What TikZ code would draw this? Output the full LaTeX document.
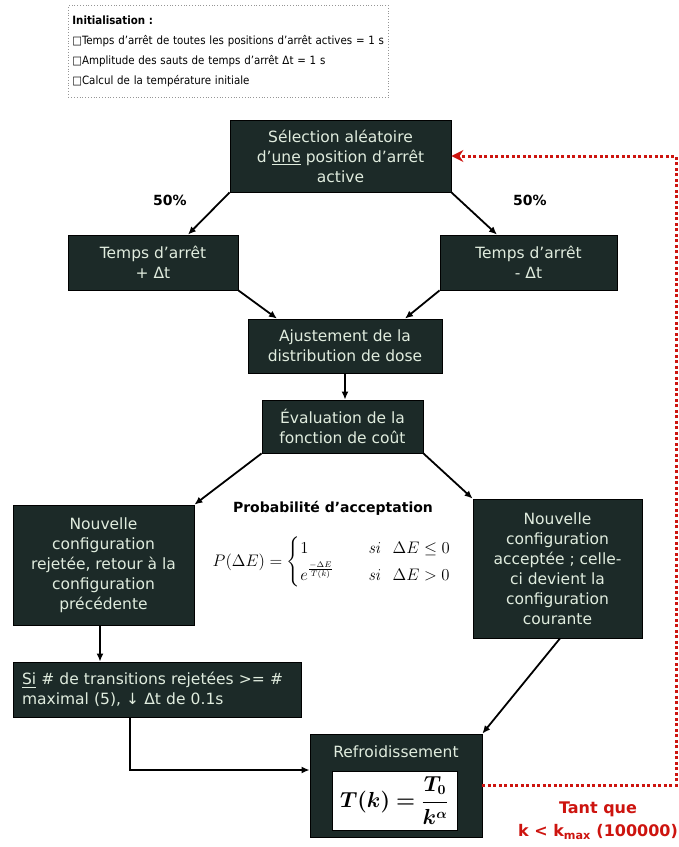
\documentclass[tikz,border=0pt]{standalone}
\usepackage{amsmath,bm,graphicx}
\usepackage[no-math]{fontspec}
\setmainfont{DejaVu Sans}
\newfontfamily\condfont{DejaVu Sans Condensed}
\usetikzlibrary{arrows.meta,calc}
\definecolor{boxc}{RGB}{28,42,40}
\definecolor{boxt}{RGB}{224,236,222}
\definecolor{loopred}{RGB}{205,20,15}
\definecolor{initgray}{RGB}{150,150,150}
\begin{document}
\begin{tikzpicture}[x=1pt,y=-1pt,
  box/.style={draw=black, line width=0.8pt, fill=boxc, text=boxt, align=center,
    inner sep=2pt, font=\fontsize{15.5}{20}\selectfont},
  arr/.style={-{Latex[length=8pt,width=7pt]}, line width=1.8pt},
  pct/.style={font=\bfseries\fontsize{14}{16}\selectfont},
  redtxt/.style={text=loopred, font=\bfseries\fontsize{16}{23}\selectfont, align=center}]
\useasboundingbox (0,0) rectangle (679,847);

% initialisation
\node[draw=initgray, dotted, line width=0.8pt, anchor=north west, minimum width=320pt,
  minimum height=92pt, text width=312pt, inner xsep=4pt, inner ysep=0.5pt, align=left,
  font=\condfont\fontsize{11.4}{20}\selectfont] (init) at (68,5)
  {\textbf{Initialisation :}\\
   □Temps d’arrêt de toutes les positions d’arrêt actives = 1 s\\
   □Amplitude des sauts de temps d’arrêt Δt = 1 s\\
   □Calcul de la température initiale};

% boxes
\node[box, minimum width=221pt, minimum height=72pt] (sel) at (340.5,156)
  {Sélection aléatoire\\ d’\underline{une} position d’arrêt\\ active};
\node[box, minimum width=170pt, minimum height=55pt] (tp) at (153,262.5)
  {Temps d’arrêt\\ + Δt};
\node[box, minimum width=177pt, minimum height=55pt] (tm) at (528.5,262.5)
  {Temps d’arrêt\\ - Δt};
\node[box, minimum width=194pt, minimum height=54pt] (aj) at (345,346)
  {Ajustement de la\\ distribution de dose};
\node[box, minimum width=161pt, minimum height=53pt] (ev) at (342.5,426.5)
  {Évaluation de la\\ fonction de coût};
\node[box, minimum width=181pt, minimum height=120pt] (rej) at (103.5,565)
  {Nouvelle\\ configuration\\ rejetée, retour à la\\ configuration\\ précédente};
\node[box, minimum width=169pt, minimum height=139pt] (acc) at (557.5,568.5)
  {Nouvelle\\ configuration\\ acceptée ; celle-\\ ci devient la\\ configuration\\ courante};
\node[box, align=left, minimum width=288pt, minimum height=55pt, text width=270pt,
  inner xsep=9pt] (si) at (157,689.5)
  {\underline{Si} \# de transitions rejetées >= \#\\ maximal (5), ↓ Δt de 0.1s};
\node[box, minimum width=172pt, minimum height=103pt] (ref) at (396,785.5) {};
\node[text=boxt, font=\fontsize{15.5}{20}\selectfont] (reft) at (396,752) {Refroidissement};
\node[fill=white, draw=black, line width=0.5pt, minimum width=125pt, minimum height=59pt,
  inner sep=0pt] (form) at (394.5,800.5)
  {\scalebox{1.26}{\fontsize{16}{18}\selectfont$\displaystyle \bm{T(k) = \frac{T_0}{k^{\alpha}}}$}};

% labels
\node[pct] (p1) at (170,200) {50\%};
\node[pct] (p2) at (530,200) {50\%};
\node[font=\bfseries\fontsize{14}{16}\selectfont] (pa) at (333,508) {Probabilité d’acceptation};
\node (pf) at (332,562) {\scalebox{1.16}{\fontsize{15}{18}\selectfont
  $P(\Delta E)=\begin{cases} 1 & \quad \mathit{si}\ \ \Delta E \le 0\\[1pt]
   e^{\frac{-\Delta E}{T(k)}} & \quad \mathit{si}\ \ \Delta E > 0\end{cases}$}};
\node[redtxt] (tq) at (598,821) {Tant que\\ k < k\textsubscript{max} (100000)};

% connectors
\draw[arr] (sel.south west) -- ([xshift=35pt]tp.north);
\draw[arr] (sel.south east) -- ([xshift=-31.5pt]tm.north);
\draw[arr] (tp.south east) -- ([xshift=-68pt]aj.north);
\draw[arr] (tm.south west) -- ([xshift=60pt]aj.north);
\draw[arr] (aj.south) -- (aj.south |- ev.north);
\draw[arr] (ev.south west) -- (rej.north east);
\draw[arr] (ev.south east) -- (acc.north west);
\draw[arr] ([xshift=-3.5pt]rej.south) -- ([xshift=-57pt]si.north);
\draw[arr] ([xshift=-27pt]si.south) |- ([yshift=15.5pt]ref.west);
\draw[arr] ([xshift=2.5pt]acc.south) -- (ref.north east);

% loop
\coordinate (rc) at (676,785);
\draw[loopred, line width=3pt, dash pattern=on 3pt off 2.5pt,
  -{Stealth[length=12pt,width=12pt]}]
  (ref.east) -- (ref.east -| rc) |- (sel.east);
\end{tikzpicture}
\end{document}
